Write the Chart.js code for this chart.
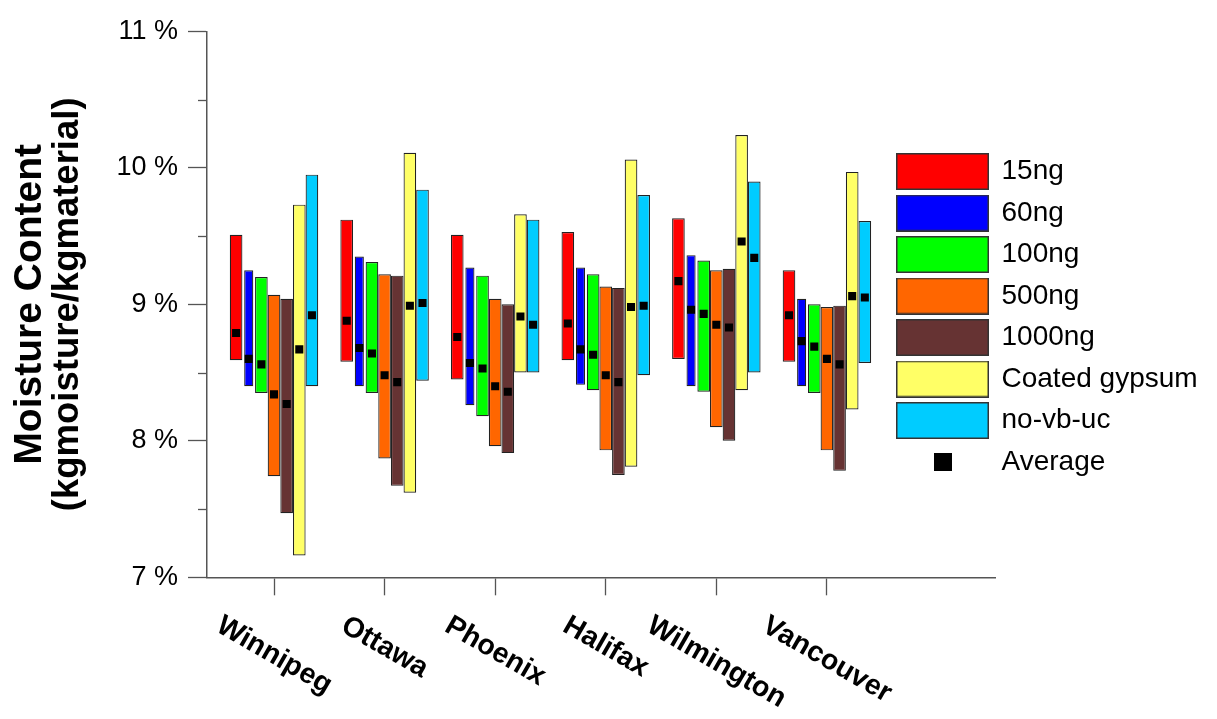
<!DOCTYPE html>
<html>
<head>
<meta charset="utf-8">
<script src="https://cdn.jsdelivr.net/npm/chart.js@4.4.1/dist/chart.umd.min.js"></script>
<style>
html, body { margin: 0; padding: 0; background: #ffffff; }
canvas { display: block; }
</style>
</head>
<body>
<canvas id="chart" width="1217" height="719"></canvas>
<script>
// ---------- data ----------
const cities = ['Winnipeg', 'Ottawa', 'Phoenix', 'Halifax', 'Wilmington', 'Vancouver'];
const seriesNames = ['15ng', '60ng', '100ng', '500ng', '1000ng', 'Coated gypsum', 'no-vb-uc'];
const seriesColors = ['#ff0000', '#0000ff', '#00ff00', '#ff6600', '#663333', '#ffff66', '#00ccff'];
const averageLabel = 'Average';
const yTickValues = [7, 8, 9, 10, 11];
const yMinorTickValues = [7.5, 8.5, 9.5, 10.5];

const min15 = [8.59, 8.58, 8.45, 8.59, 8.60, 8.58];
const max15 = [9.51, 9.62, 9.51, 9.53, 9.63, 9.25];
const avg15 = [8.79, 8.88, 8.76, 8.86, 9.17, 8.92];

const min60 = [8.40, 8.40, 8.26, 8.41, 8.40, 8.40];
const max60 = [9.25, 9.35, 9.27, 9.27, 9.36, 9.04];
const avg60 = [8.60, 8.68, 8.57, 8.67, 8.96, 8.73];

const min100 = [8.35, 8.35, 8.18, 8.37, 8.36, 8.35];
const max100 = [9.20, 9.31, 9.21, 9.22, 9.32, 9.00];
const avg100 = [8.56, 8.64, 8.53, 8.63, 8.93, 8.69];

const min500 = [7.74, 7.87, 7.96, 7.93, 8.10, 7.93];
const max500 = [9.07, 9.22, 9.04, 9.13, 9.25, 8.98];
const avg500 = [8.34, 8.48, 8.40, 8.48, 8.85, 8.60];

const min1000 = [7.47, 7.67, 7.91, 7.75, 8.00, 7.78];
const max1000 = [9.04, 9.21, 9.00, 9.12, 9.26, 8.99];
const avg1000 = [8.27, 8.43, 8.36, 8.43, 8.83, 8.56];

const minCoated = [7.16, 7.62, 8.50, 7.81, 8.37, 8.23];
const maxCoated = [9.73, 10.11, 9.66, 10.06, 10.24, 9.97];
const avgCoated = [8.67, 8.99, 8.91, 8.98, 9.46, 9.06];

const minNoVb = [8.40, 8.44, 8.50, 8.48, 8.50, 8.57];
const maxNoVb = [9.95, 9.84, 9.62, 9.80, 9.90, 9.61];
const avgNoVb = [8.92, 9.01, 8.85, 8.99, 9.34, 9.05];

const seriesMin = [min15, min60, min100, min500, min1000, minCoated, minNoVb];
const seriesMax = [max15, max60, max100, max500, max1000, maxCoated, maxNoVb];
const seriesAvg = [avg15, avg60, avg100, avg500, avg1000, avgCoated, avgNoVb];

// ---------- styling / layout ----------
const FONT = "'Liberation Sans', Arial, Helvetica, sans-serif";
const AXIS_COLOR = '#555555';
const CAT_PCT = 0.8;
const LABEL_ANGLE = 30;
const LABEL_TOP_GAP = 35;

Chart.defaults.font.family = FONT;
Chart.defaults.color = '#000000';

// x scale whose tick labels hang down to the right (clockwise rotation, centred on tick)
class SlantScale extends Chart.LinearScale {
  _computeLabelItems(chartArea) {
    const items = super._computeLabelItems(chartArea);
    const ang = LABEL_ANGLE * Math.PI / 180;
    const ctx = this.ctx;
    items.forEach((it, i) => {
      ctx.save();
      ctx.font = it.font.string;
      const w = ctx.measureText(it.label).width;
      ctx.restore();
      const h = it.font.size * 0.92;
      const bh = w * Math.sin(ang) + h * Math.cos(ang);
      it.options.translation = [this.getPixelForTick(i), this.top + LABEL_TOP_GAP + bh / 2];
      it.options.rotation = ang;
      it.options.textAlign = 'center';
      it.options.textBaseline = 'middle';
      it.textOffset = 0;
    });
    return items;
  }
}
SlantScale.id = 'slant';
SlantScale.defaults = Chart.LinearScale.defaults;
Chart.register(SlantScale);

// legend swatches
function makeSwatch(color, w, h, border) {
  const c = document.createElement('canvas');
  c.width = w; c.height = h;
  const g = c.getContext('2d');
  g.fillStyle = color;
  g.fillRect(0, 0, w, h);
  if (border) {
    g.strokeStyle = '#333333';
    g.lineWidth = 1.5;
    g.strokeRect(0.75, 0.75, w - 1.5, h - 1.5);
  }
  return c;
}
const swatches = seriesColors.map(c => makeSwatch(c, 93, 37, true));
swatches.push(makeSwatch('#000000', 18, 18, false));

// ---------- datasets ----------
const datasets = seriesNames.map((name, j) => ({
  type: 'bar',
  label: name,
  data: cities.map((c, i) => ({ x: i + 1, y: [seriesMin[j][i], seriesMax[j][i]] })),
  backgroundColor: seriesColors[j],
  borderColor: '#222222',
  borderWidth: 1.2,
  borderSkipped: false,
  categoryPercentage: CAT_PCT,
  barPercentage: j === 1 ? 0.72 : 1.0,
  order: 1
}));

const nSeries = seriesNames.length;
const avgPoints = [];
seriesNames.forEach((name, j) => {
  cities.forEach((c, i) => {
    avgPoints.push({ x: i + 1 + (j - (nSeries - 1) / 2) * CAT_PCT / nSeries, y: seriesAvg[j][i] });
  });
});
datasets.push({
  type: 'scatter',
  label: averageLabel,
  data: avgPoints,
  backgroundColor: '#000000',
  borderColor: '#000000',
  borderWidth: 0,
  pointStyle: 'rect',
  pointRadius: 5.7,
  pointHoverRadius: 5.7,
  showLine: false,
  order: 0
});

// ---------- plugins ----------
const layoutTweaks = {
  id: 'layoutTweaks',
  afterLayout(chart) {
    const L = chart.legend;
    if (!L) return;
    const pad = L.options.labels.padding;
    L.left = 884;
    L.right = 1217;
    L.width = L.right - L.left;
    const dy = 157.5 - (L.top + pad);
    L.top += dy; L.bottom += dy;
  }
};

const minorTicks = {
  id: 'minorTicks',
  afterDraw(chart) {
    const y = chart.scales.y;
    const ctx = chart.ctx;
    const left = chart.chartArea.left;
    ctx.save();
    ctx.strokeStyle = AXIS_COLOR;
    ctx.lineWidth = 1.3;
    yMinorTickValues.forEach(v => {
      const py = Math.round(y.getPixelForValue(v)) + 0.5;
      ctx.beginPath();
      ctx.moveTo(left - 9, py);
      ctx.lineTo(left, py);
      ctx.stroke();
    });
    ctx.restore();
  }
};

// ---------- chart ----------
new Chart(document.getElementById('chart'), {
  type: 'bar',
  data: { datasets },
  options: {
    responsive: false,
    devicePixelRatio: 1,
    animation: false,
    layout: { padding: { top: 31.3, bottom: 0, left: 0, right: 0 } },
    plugins: {
      tooltip: { enabled: false },
      legend: {
        display: true,
        position: 'right',
        align: 'start',
        fullSize: false,
        maxWidth: 222,
        labels: {
          usePointStyle: true,
          pointStyleWidth: 90,
          padding: 13.5,
          color: '#000000',
          font: { size: 28, family: FONT },
          generateLabels(chart) {
            const items = Chart.defaults.plugins.legend.labels.generateLabels(chart);
            items.sort((a, b) => a.datasetIndex - b.datasetIndex);
            items.forEach(it => { it.pointStyle = swatches[it.datasetIndex]; });
            return items;
          }
        }
      }
    },
    scales: {
      x: {
        type: 'slant',
        position: 'bottom',
        offset: false,
        min: 0.394,
        max: 7.52,
        afterBuildTicks(scale) {
          scale.ticks = cities.map((c, i) => ({ value: i + 1 }));
        },
        afterFit(scale) { scale.height = 719 - 577.3; },
        ticks: {
          autoSkip: false,
          minRotation: 30,
          maxRotation: 30,
          padding: 4,
          color: '#000000',
          font: { size: 28.5, weight: 'bold', family: FONT },
          callback: (v) => cities[Math.round(v) - 1] || ''
        },
        grid: {
          display: true,
          offset: false,
          drawOnChartArea: false,
          drawTicks: true,
          tickLength: 18,
          tickColor: AXIS_COLOR,
          tickWidth: 1.3
        },
        border: { display: true, color: AXIS_COLOR, width: 1.5 }
      },
      y: {
        type: 'linear',
        position: 'left',
        weight: 0,
        min: 7,
        max: 11,
        afterBuildTicks(scale) {
          scale.ticks = yTickValues.map(v => ({ value: v }));
        },
        afterFit(scale) { scale.width = 158; },
        ticks: {
          padding: 10,
          color: '#000000',
          font: { size: 27, family: FONT },
          callback: (v) => v + ' %'
        },
        grid: {
          display: true,
          drawOnChartArea: false,
          drawTicks: true,
          tickLength: 19,
          tickColor: AXIS_COLOR,
          tickWidth: 1.3
        },
        border: { display: true, color: AXIS_COLOR, width: 1.5 },
        title: {
          display: true,
          text: '(kgmoisture/kgmaterial)',
          color: '#000000',
          font: { size: 36.5, weight: 'bold', family: FONT, lineHeight: 1 },
          padding: { top: 1, bottom: 0 }
        }
      },
      yTitle: {
        type: 'linear',
        position: 'left',
        weight: 1,
        display: true,
        afterFit(scale) { scale.width = 49; },
        ticks: { display: false },
        grid: { display: false, drawTicks: false },
        border: { display: false },
        title: {
          display: true,
          text: 'Moisture Content',
          color: '#000000',
          font: { size: 39, weight: 'bold', family: FONT, lineHeight: 1 },
          padding: { top: 10.5, bottom: 0 }
        }
      }
    }
  },
  plugins: [layoutTweaks, minorTicks]
});
</script>
</body>
</html>
